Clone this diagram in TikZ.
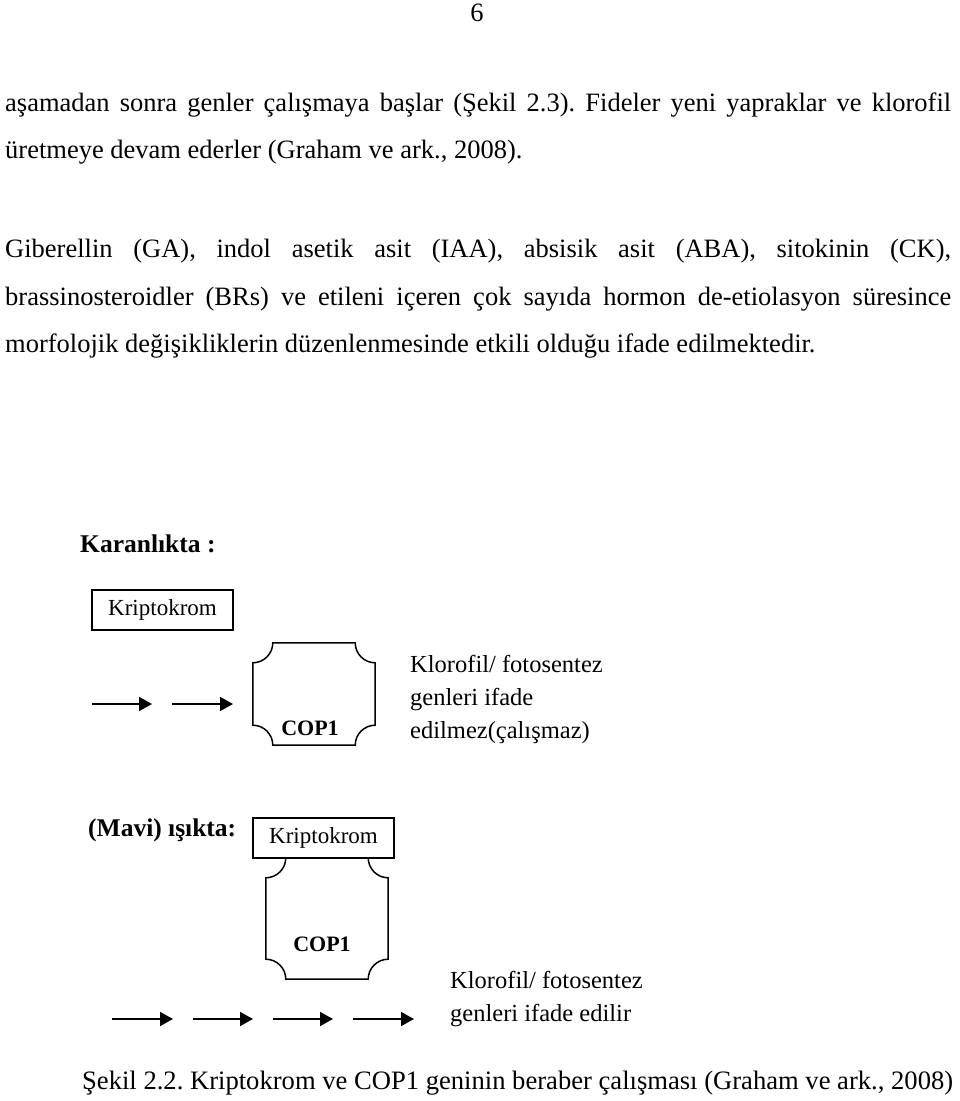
\documentclass[tikz,border=0pt]{standalone}
\usepackage{fontspec}
\setmainfont{Liberation Serif}
\usetikzlibrary{arrows.meta,calc}
\frenchspacing
\newcommand\notchedbox[1]{%
  \draw[boxline] let \p1=(#1.north west), \p2=(#1.south east) in
    (\x1+20pt,\y1) -- (\x2-20pt,\y1)
    .. controls (\x2-20pt,\y1-11pt) and (\x2-11pt,\y1-20pt) .. (\x2,\y1-20pt)
    -- (\x2,\y2+20pt)
    .. controls (\x2-11pt,\y2+20pt) and (\x2-20pt,\y2+11pt) .. (\x2-20pt,\y2)
    -- (\x1+20pt,\y2)
    .. controls (\x1+20pt,\y2+11pt) and (\x1+11pt,\y2+20pt) .. (\x1,\y2+20pt)
    -- (\x1,\y1-20pt)
    .. controls (\x1+11pt,\y1-20pt) and (\x1+20pt,\y1-11pt) .. cycle;}
\tikzset{
  body/.style={anchor=base west, inner sep=0pt, font=\fontsize{26.5}{30}\selectfont},
  lbl/.style={anchor=base west, inner sep=0pt, font=\fontsize{24.5}{30}\selectfont},
  blbl/.style={anchor=base west, inner sep=0pt, font=\fontsize{25.5}{30}\selectfont\bfseries},
  copl/.style={anchor=base, inner sep=0pt, font=\fontsize{22}{26}\selectfont\bfseries},
  kbox/.style={draw, line width=1.5pt, inner sep=0pt, minimum width=141pt, minimum height=40pt, font=\fontsize{23}{28}\selectfont},
  copframe/.style={inner sep=0pt, minimum width=122pt},
  boxline/.style={line width=1.5pt},
  arr/.style={line width=1.6pt, -{Triangle[length=13pt,width=14pt]}}
}
\begin{document}
\begin{tikzpicture}[x=1pt,y=-1pt]
\useasboundingbox (0,0) rectangle (960,1101);
% page number
\node[anchor=base, inner sep=0pt, font=\fontsize{26.5}{30}\selectfont] (pg) at (477,21) {6};
% paragraph 1
\node[body] (p1a) at (5,111) {\makebox[946pt][s]{aşamadan sonra genler çalışmaya başlar (Şekil 2.3). Fideler yeni yapraklar ve klorofil}};
\node[body] (p1b) at (5,158) {üretmeye devam ederler (Graham ve ark., 2008).};
% paragraph 2
\node[body] (p2a) at (5,257) {\makebox[946pt][s]{Giberellin (GA), indol asetik asit (IAA), absisik asit (ABA), sitokinin (CK),}};
\node[body] (p2b) at (5,305) {\makebox[946pt][s]{brassinosteroidler (BRs) ve etileni içeren çok sayıda hormon de-etiolasyon süresince}};
\node[body] (p2c) at (5,352) {morfolojik değişikliklerin düzenlenmesinde etkili olduğu ifade edilmektedir.};
% Dark
\node[blbl] (dark) at (80,552) {Karanlıkta :};
\node[kbox] (k1) at (162.5,610) {Kriptokrom};
\node[copframe, minimum height=102pt] (c1) at (314,694) {};
\notchedbox{c1}
\node[copl] (c1t) at (310,735) {COP1};
\coordinate (a1s) at (92,704);
\coordinate (a1e) at (152,704);
\coordinate (a2s) at (172,704);
\coordinate (a2e) at (233,704);
\draw[arr] (a1s) -- (a1e);
\draw[arr] (a2s) -- (a2e);
\node[lbl] (t1a) at (410,672) {Klorofil/ fotosentez};
\node[lbl] (t1b) at (410,705) {genleri ifade};
\node[lbl] (t1c) at (410,738) {edilmez(çalışmaz)};
% Blue light
\node[blbl] (blue) at (88,836) {(Mavi) ışıkta:};
\node[copframe, minimum height=121pt] (c2) at (327,918.5) {};
\notchedbox{c2}
\node[kbox, fill=white] (k2) at (323.5,838) {Kriptokrom};
\node[copl] (c2t) at (322,951) {COP1};
\coordinate (b1s) at (112,1019);
\coordinate (b1e) at (173,1019);
\coordinate (b2s) at (193,1019);
\coordinate (b2e) at (253,1019);
\coordinate (b3s) at (273,1019);
\coordinate (b3e) at (333,1019);
\coordinate (b4s) at (353,1019);
\coordinate (b4e) at (414,1019);
\draw[arr] (b1s) -- (b1e);
\draw[arr] (b2s) -- (b2e);
\draw[arr] (b3s) -- (b3e);
\draw[arr] (b4s) -- (b4e);
\node[lbl] (t2a) at (450,988) {Klorofil/ fotosentez};
\node[lbl] (t2b) at (450,1021) {genleri ifade edilir};
% caption
\node[body, font=\fontsize{26.6}{30}\selectfont] (cap) at (82,1089) {Şekil 2.2. Kriptokrom ve COP1 geninin beraber çalışması (Graham ve ark., 2008)};
\end{tikzpicture}
\end{document}
